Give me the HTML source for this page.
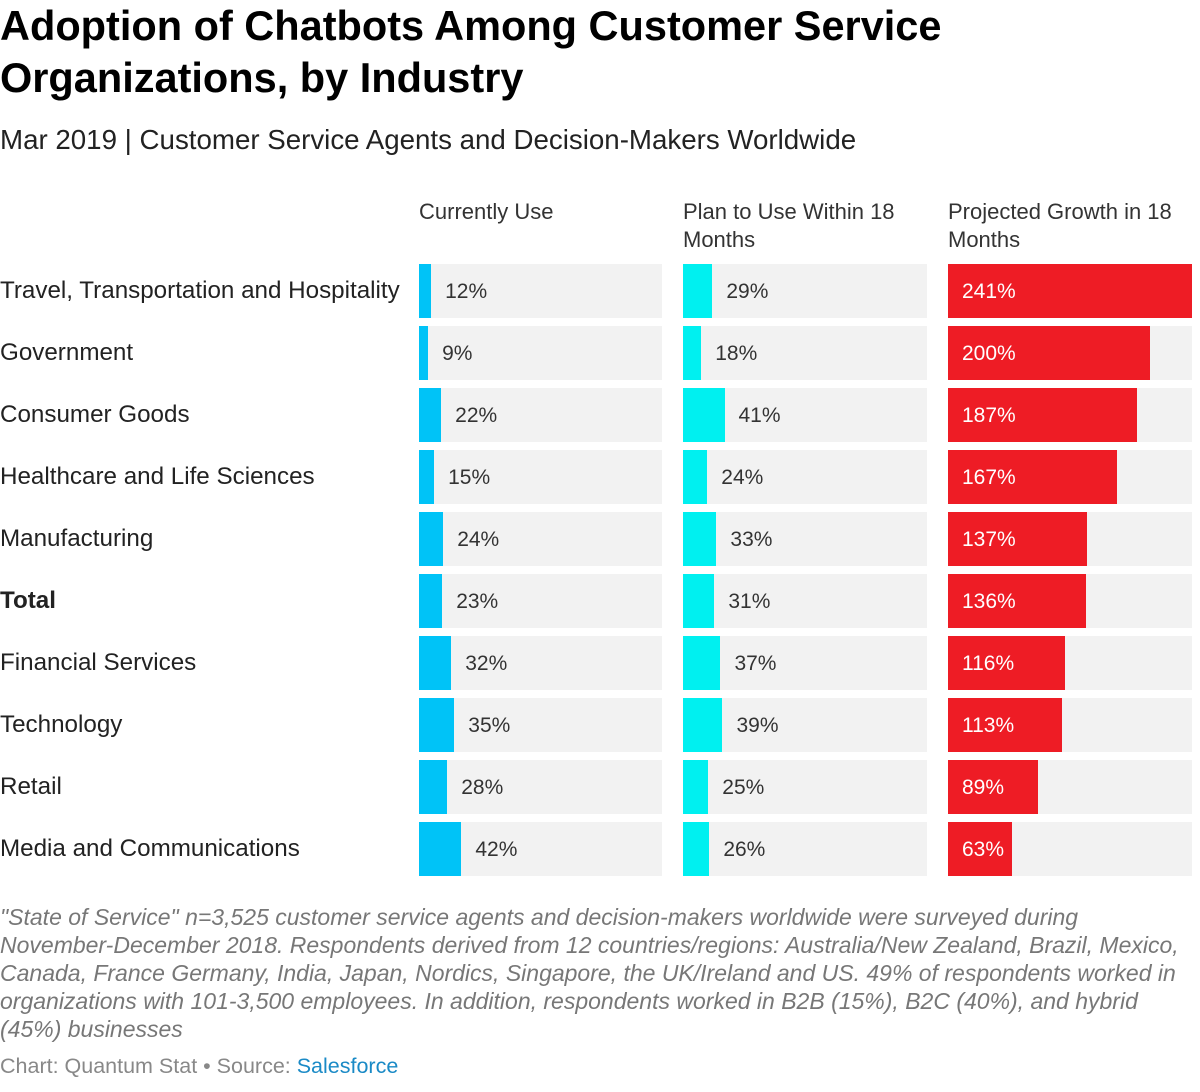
<!DOCTYPE html>
<html><head><meta charset="utf-8">
<style>
body{margin:0;width:1200px;height:1092px;background:#fff;font-family:"Liberation Sans",sans-serif;color:#222;position:relative;overflow:hidden}
.abs{position:absolute;white-space:nowrap}
#title{left:0;top:0px;font-size:41.5px;font-weight:bold;line-height:52px;color:#000}
#sub{left:0;top:124px;font-size:27.7px;color:#222}
.hdr{font-size:22px;color:#333;line-height:28px;top:198px}
.lbl{font-size:24.2px;color:#222;left:0}
.track{background:#f2f2f2;height:54px}
.val{font-size:21px;color:#333}
#foot{left:0;top:903px;font-size:23px;font-style:italic;color:#777;line-height:28px}
#src{left:0;top:1054px;font-size:21.5px;color:#888}
</style></head><body>
<div id="title" class="abs">Adoption of Chatbots Among Customer Service<br>Organizations, by Industry</div>
<div id="sub" class="abs">Mar 2019 | Customer Service Agents and Decision-Makers Worldwide</div>
<div class="abs hdr" style="left:419px">Currently Use</div>
<div class="abs hdr" style="left:683px">Plan to Use Within 18<br>Months</div>
<div class="abs hdr" style="left:948px">Projected Growth in 18<br>Months</div>
<div id="chart"></div>
<div id="foot" class="abs">"State of Service" n=3,525 customer service agents and decision-makers worldwide were surveyed during<br>November-December 2018. Respondents derived from 12 countries/regions: Australia/New Zealand, Brazil, Mexico,<br>Canada, France Germany, India, Japan, Nordics, Singapore, the UK/Ireland and US. 49% of respondents worked in<br>organizations with 101-3,500 employees. In addition, respondents worked in B2B (15%), B2C (40%), and hybrid<br>(45%) businesses</div>
<div id="src" class="abs">Chart: Quantum Stat • Source: <span style="color:#1a8ac6">Salesforce</span></div>
<script>
const categories=["Travel, Transportation and Hospitality","Government","Consumer Goods","Healthcare and Life Sciences","Manufacturing","Total","Financial Services","Technology","Retail","Media and Communications"];
const currentlyUse=[12,9,22,15,24,23,32,35,28,42];
const planToUse=[29,18,41,24,33,31,37,39,25,26];
const projectedGrowth=[241,200,187,167,137,136,116,113,89,63];
const maxVal=241;
const cols=[{x:419,w:243,c:"#00c3f7",d:currentlyUse,n:"currently-use"},{x:683,w:244,c:"#00f0f0",d:planToUse,n:"plan-to-use"},{x:948,w:244,c:"#ee1c25",d:projectedGrowth,n:"projected-growth"}];
const chart=document.getElementById('chart');
function sx(v,w){return w*v/maxVal;}
categories.forEach((cat,i)=>{
  const y=264+i*62;
  const l=document.createElement('div');
  l.className='abs lbl';
  
  
  l.style.top=(y+13)+'px';
  if(cat==='Total')l.style.fontWeight='bold';
  l.textContent=cat;chart.appendChild(l);
  cols.forEach((c,j)=>{
    const t=document.createElement('div');
    t.className='abs track';
    
    
    t.style.left=c.x+'px';t.style.top=y+'px';t.style.width=c.w+'px';
    chart.appendChild(t);
    const bw=sx(c.d[i],c.w);
    const b=document.createElement('div');
    b.className='abs';
    
    
    b.style.cssText+=`left:${c.x}px;top:${y}px;width:${bw}px;height:54px;background:${c.c}`;
    chart.appendChild(b);
    const v=document.createElement('div');
    v.className='abs val';
    
    
    v.style.top=(y+16)+'px';
    if(j===2){v.style.left=(c.x+14)+'px';v.style.color='#fff';}
    else v.style.left=(c.x+bw+14)+'px';
    v.textContent=c.d[i]+'%';
    chart.appendChild(v);
  });
});
</script>
</body></html>
